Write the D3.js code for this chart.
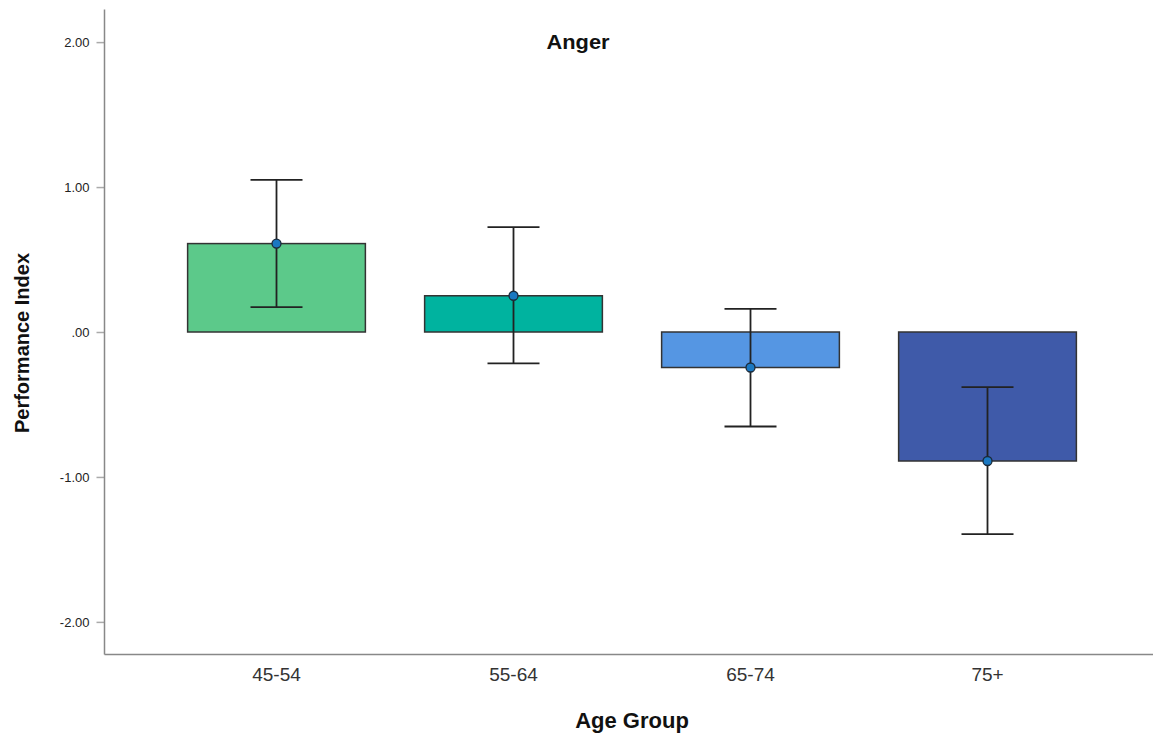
<!DOCTYPE html>
<html>
<head>
<meta charset="utf-8">
<script src="https://cdn.jsdelivr.net/npm/d3@7"></script>
<style>
  html, body { margin: 0; padding: 0; background: #fff; }
  svg { display: block; font-family: "Liberation Sans", Arial, sans-serif; }
</style>
</head>
<body>
<svg id="chart" width="1153" height="736"></svg>
<script>
// Mean performance index by age group, with error bar limits
const categories = ["45-54", "55-64", "65-74", "75+"];
const means      = [0.61, 0.25, -0.245, -0.89];
const errLow     = [0.172, -0.216, -0.652, -1.395];
const errHigh    = [1.05, 0.724, 0.159, -0.381];
const barColors  = ["#5cc98a", "#00b39f", "#5596e3", "#3f5aa9"];
const yTicks     = [-2, -1, 0, 1, 2];
const tickLabels = ["-2.00", "-1.00", ".00", "1.00", "2.00"];

const svg = d3.select("#chart");
const axisLeftX = 104.5, axisBottomY = 654.5, axisTopY = 9.5;

const x = d3.scaleBand()
  .domain(categories)
  .range([158, 1106])
  .paddingInner(0.25)
  .paddingOuter(0.125);

const y = d3.scaleLinear()
  .domain([-2.225, 2.225])
  .range([axisBottomY, axisTopY]);

// Axes
const yAxis = d3.axisLeft(y)
  .tickValues(yTicks)
  .tickFormat((d, i) => tickLabels[i])
  .tickSize(8)
  .tickPadding(7);

const gy = svg.append("g")
  .attr("transform", `translate(${axisLeftX},0)`)
  .call(yAxis);
gy.select(".domain").remove();
gy.selectAll(".tick line").attr("stroke", "#aaa").attr("stroke-width", 1.5);
gy.selectAll(".tick text").attr("font-size", 13).attr("fill", "#222")
  .attr("font-family", "'Liberation Sans', Arial, sans-serif");

svg.append("line")
  .attr("x1", axisLeftX).attr("x2", axisLeftX)
  .attr("y1", axisTopY).attr("y2", axisBottomY)
  .attr("stroke", "#888").attr("stroke-width", 1.5);

const xAxis = d3.axisBottom(x).tickSize(0).tickPadding(13);
const gx = svg.append("g")
  .attr("transform", `translate(0,${axisBottomY})`)
  .call(xAxis);
gx.select(".domain").remove();
gx.selectAll(".tick text").attr("font-size", 19).attr("fill", "#333")
  .attr("font-family", "'Liberation Sans', Arial, sans-serif");

svg.append("line")
  .attr("x1", axisLeftX).attr("x2", 1153)
  .attr("y1", axisBottomY).attr("y2", axisBottomY)
  .attr("stroke", "#888").attr("stroke-width", 1.5);

// Bars from zero to the mean
svg.append("g").selectAll("rect")
  .data(categories)
  .join("rect")
  .attr("x", d => x(d))
  .attr("width", x.bandwidth())
  .attr("y", (d, i) => Math.min(y(means[i]), y(0)))
  .attr("height", (d, i) => Math.abs(y(means[i]) - y(0)))
  .attr("fill", (d, i) => barColors[i])
  .attr("stroke", "#333")
  .attr("stroke-width", 1.5);

// Error bars
const capHalf = 26;
const eb = svg.append("g").selectAll("g")
  .data(categories)
  .join("g")
  .attr("stroke", "#222")
  .attr("stroke-width", 1.8);
eb.append("line")
  .attr("x1", d => x(d) + x.bandwidth() / 2)
  .attr("x2", d => x(d) + x.bandwidth() / 2)
  .attr("y1", (d, i) => y(errHigh[i]))
  .attr("y2", (d, i) => y(errLow[i]));
eb.append("line")
  .attr("x1", d => x(d) + x.bandwidth() / 2 - capHalf)
  .attr("x2", d => x(d) + x.bandwidth() / 2 + capHalf)
  .attr("y1", (d, i) => y(errHigh[i]))
  .attr("y2", (d, i) => y(errHigh[i]));
eb.append("line")
  .attr("x1", d => x(d) + x.bandwidth() / 2 - capHalf)
  .attr("x2", d => x(d) + x.bandwidth() / 2 + capHalf)
  .attr("y1", (d, i) => y(errLow[i]))
  .attr("y2", (d, i) => y(errLow[i]));

// Mean markers
svg.append("g").selectAll("circle")
  .data(categories)
  .join("circle")
  .attr("cx", d => x(d) + x.bandwidth() / 2)
  .attr("cy", (d, i) => y(means[i]))
  .attr("r", 4.5)
  .attr("fill", "#1a78c2")
  .attr("stroke", "#1a2a3a")
  .attr("stroke-width", 1.3);

// Titles
svg.append("text")
  .attr("x", 578).attr("y", 49)
  .attr("text-anchor", "middle")
  .attr("font-size", 21).attr("font-weight", "bold").attr("fill", "#111")
  .attr("textLength", 63).attr("lengthAdjust", "spacingAndGlyphs")
  .text("Anger");

svg.append("text")
  .attr("x", 632).attr("y", 728)
  .attr("text-anchor", "middle")
  .attr("font-size", 22).attr("font-weight", "bold").attr("fill", "#111")
  .text("Age Group");

svg.append("text")
  .attr("transform", "translate(29,343) rotate(-90)")
  .attr("text-anchor", "middle")
  .attr("font-size", 20).attr("font-weight", "bold").attr("fill", "#111")
  .text("Performance Index");
</script>
</body>
</html>
